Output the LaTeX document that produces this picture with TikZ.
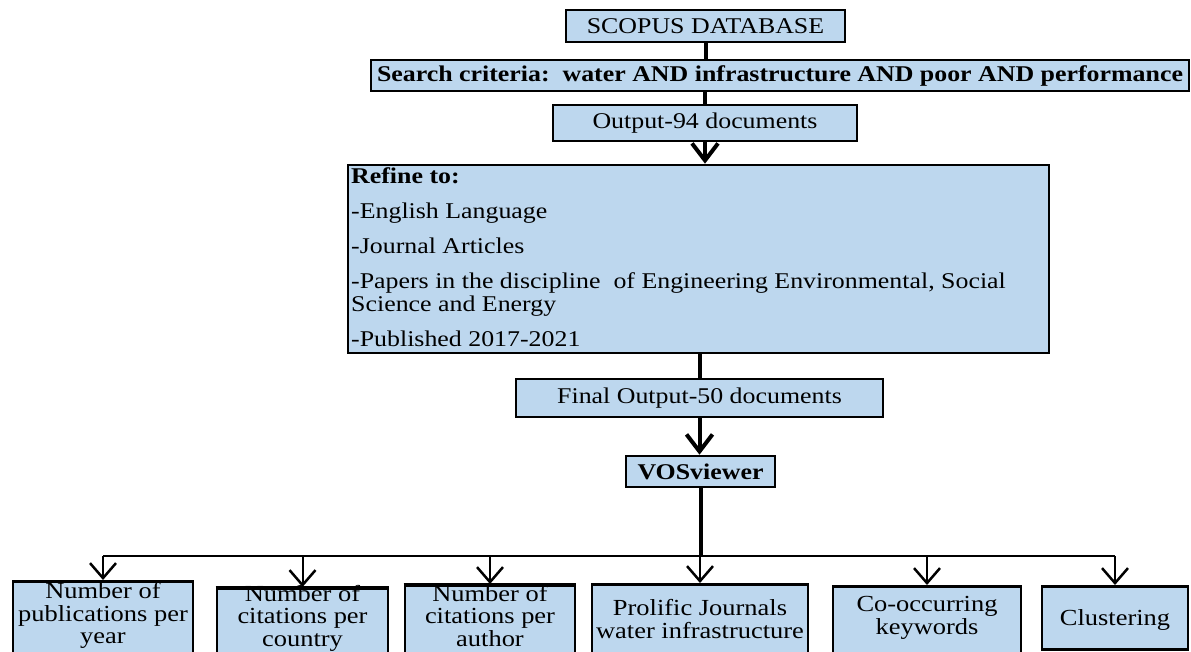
\documentclass[tikz,border=0pt]{standalone}
\usepackage{fontspec}
\setmainfont{Liberation Serif}[FakeStretch=1.15]
\usetikzlibrary{arrows.meta}
\definecolor{boxblue}{HTML}{BDD7EE}
\begin{document}
\begin{tikzpicture}[x=1pt,y=-1pt,
  box/.style={draw=black, line width=2.6pt, fill=boxblue, inner sep=0pt, anchor=center},
  boxline/.style={draw=black, line width=2.6pt},
  lbl/.style={font=\fontsize{22.5}{24}\selectfont},
  blbl/.style={font=\bfseries\fontsize{22.5}{24}\selectfont},
  btext/.style={font=\fontsize{23}{22.5}\selectfont, align=center, inner sep=0pt, anchor=north},
  conn/.style={line width=4pt},
  bigarrow/.style={line width=4pt, -{Straight Barb[length=17pt,width=26pt,line width=4pt]}},
  thinconn/.style={line width=2pt},
  smallarrow/.style={line width=2pt, -{Straight Barb[length=15pt,width=26pt,line width=2.5pt]}}
]
\useasboundingbox (0,0) rectangle (1191,651);
\clip (0,0) rectangle (1191,651);

% top chain
\node[box, lbl, minimum width=279pt, minimum height=32pt] (scopus) at (705.5,26) {SCOPUS DATABASE};
\node[box, blbl, minimum width=818pt, minimum height=31pt] (search) at (780,75.5) {Search criteria:\ \ water AND infrastructure AND poor AND performance};
\node[box, lbl, minimum width=304pt, minimum height=36pt] (out94) at (705,123) {Output-94 documents};
\node[box, minimum width=701pt, minimum height=188pt] (refine) at (698.5,259) {};
\node[lbl, font=\fontsize{22.5}{23}\selectfont, align=left, inner sep=0pt, anchor=north west] (refinetext) at (351,167.5)
  {\textbf{Refine to:}\\[12pt]
   -English Language\\[12pt]
   -Journal Articles\\[12pt]
   -Papers in the discipline\ \ of Engineering Environmental, Social\\
   Science and Energy\\[12pt]
   -Published 2017-2021};
\node[box, lbl, minimum width=367pt, minimum height=38pt] (final) at (699.5,398) {Final Output-50 documents};
\node[box, blbl, minimum width=149pt, minimum height=31pt] (vos) at (700.5,471.5) {VOSviewer};

\draw[conn] (scopus.south) -- (scopus.south |- search.north);
\draw[conn] (out94.north |- search.south) -- (out94.north);
\draw[bigarrow] (out94.south) -- (out94.south |- refine.north);
\draw[conn] (refine.south -| final.north) -- (final.north);
\draw[bigarrow] (final.south) -- (final.south |- vos.north);

% bottom boxes
\node[box, minimum width=180pt, minimum height=100pt, anchor=north] (b1) at (103,580) {};
\node[box, minimum width=171pt, minimum height=100pt, anchor=north] (b2) at (302.5,587) {};
\node[box, minimum width=170pt, minimum height=100pt, anchor=north] (b3) at (490,584) {};
\node[box, minimum width=216pt, minimum height=100pt, anchor=north] (b4) at (700,583) {};
\node[box, minimum width=188pt, minimum height=100pt, anchor=north] (b5) at (927,585) {};
\node[box, minimum width=146pt, minimum height=63pt, anchor=north] (b6) at (1115,585) {};

\node[btext] (t1) at (103,582.3) {Number of\\publications per\\year};
\node[btext] (t2) at (302.5,585) {Number of\\citations per\\country};
\node[btext] (t3) at (490,585) {Number of\\citations per\\author};
\node[btext] (t4) at (700,599.3) {Prolific Journals\\water infrastructure};
\node[btext] (t5) at (927,596.3) {Co-occurring\\keywords};
\node[btext] (t6) at (1115,609.3) {Clustering};

\draw[boxline] (b2.north west) -- (b2.north east);
\draw[boxline] (b3.north west) -- (b3.north east);

% distribution bar
\coordinate (bar) at (700.5,556);
\draw[conn] (vos.south) -- (bar);
\draw[thinconn] (b1.north |- bar) -- (b6.north |- bar);
\draw[smallarrow] (b1.north |- bar) -- (b1.north);
\draw[smallarrow] (b2.north |- bar) -- (b2.north);
\draw[smallarrow] (b3.north |- bar) -- (b3.north);
\draw[smallarrow] (b4.north |- bar) -- (b4.north);
\draw[smallarrow] (b5.north |- bar) -- (b5.north);
\draw[smallarrow] (b6.north |- bar) -- (b6.north);
\end{tikzpicture}
\end{document}
